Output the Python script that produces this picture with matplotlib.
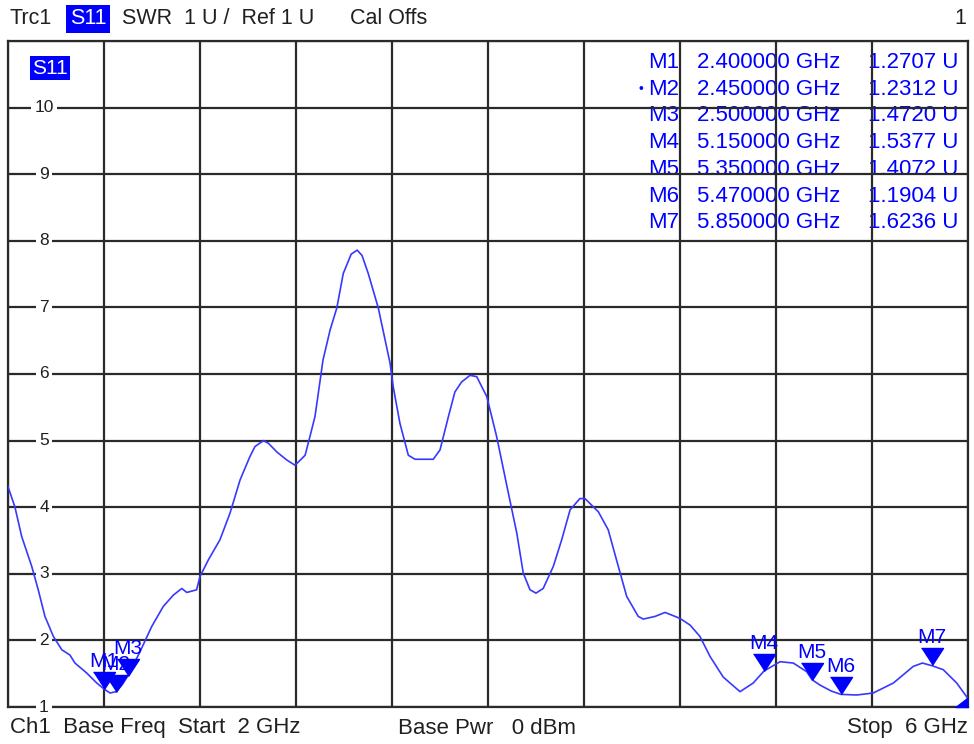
# VNA screenshot: S11 SWR trace, 2-6 GHz
import matplotlib.pyplot as plt
import matplotlib.transforms as mtransforms
import numpy as np

plt.rcParams['font.family'] = ['Liberation Sans', 'DejaVu Sans']

# trace (GHz, SWR)
freq = [2.0, 2.029, 2.057, 2.099, 2.126, 2.154, 2.189, 2.224, 2.258, 2.279,
        2.328, 2.37, 2.40, 2.425, 2.45, 2.475, 2.50, 2.55, 2.599, 2.647,
        2.689, 2.724, 2.745, 2.786, 2.80, 2.835, 2.883, 2.925, 2.967, 3.008,
        3.029, 3.064, 3.085, 3.12, 3.161, 3.196, 3.238, 3.258, 3.279, 3.289,
        3.3125, 3.342, 3.37, 3.397, 3.43, 3.455, 3.475, 3.501, 3.543, 3.592,
        3.605, 3.633, 3.668, 3.696, 3.745, 3.772, 3.80, 3.835, 3.862, 3.89,
        3.925, 3.953, 3.995, 4.036, 4.085, 4.12, 4.147, 4.175, 4.20, 4.23,
        4.272, 4.307, 4.342, 4.383, 4.404, 4.46, 4.501, 4.543, 4.578, 4.626,
        4.647, 4.696, 4.738, 4.80, 4.842, 4.883, 4.925, 4.98, 5.05, 5.105,
        5.15, 5.217, 5.272, 5.328, 5.35, 5.383, 5.43, 5.47, 5.536, 5.605,
        5.689, 5.772, 5.81, 5.85, 5.897, 5.953, 5.995, 6.0]
swr = [4.31, 4.00, 3.56, 3.11, 2.76, 2.36, 2.06, 1.86, 1.78, 1.66,
       1.51, 1.36, 1.27, 1.21, 1.23, 1.33, 1.47, 1.83, 2.21, 2.51,
       2.68, 2.78, 2.72, 2.76, 2.96, 3.21, 3.51, 3.91, 4.41, 4.76,
       4.91, 5.00, 4.96, 4.83, 4.71, 4.63, 4.78, 5.06, 5.36, 5.61,
       6.21, 6.66, 6.99, 7.51, 7.80, 7.86, 7.78, 7.51, 6.99, 6.16,
       5.81, 5.26, 4.78, 4.72, 4.72, 4.72, 4.86, 5.36, 5.73, 5.88,
       5.98, 5.96, 5.66, 5.06, 4.21, 3.61, 3.01, 2.76, 2.71, 2.78,
       3.11, 3.51, 3.96, 4.13, 4.13, 3.93, 3.66, 3.11, 2.66, 2.36,
       2.32, 2.36, 2.42, 2.33, 2.23, 2.06, 1.76, 1.45, 1.23, 1.36,
       1.54, 1.68, 1.66, 1.53, 1.41, 1.33, 1.24, 1.19, 1.18, 1.21,
       1.36, 1.61, 1.66, 1.62, 1.56, 1.36, 1.15, 1.12]

marker_names = ["M1", "M2", "M3", "M4", "M5", "M6", "M7"]
marker_freq = [2.40, 2.45, 2.50, 5.15, 5.35, 5.47, 5.85]
marker_swr = [1.2707, 1.2312, 1.4720, 1.5377, 1.4072, 1.1904, 1.6236]

y_ticks = [1, 2, 3, 4, 5, 6, 7, 8, 9, 10]

W, H = 974, 744
blue = '#0000ff'
trace_blue = '#3838ff'
ink = '#202020'
fig = plt.figure(figsize=(W / 100, H / 100), dpi=100)
ax = fig.add_axes([8 / W, 37 / H, 960 / W, 666 / H])
ax.set_xlim(2, 6)
ax.set_ylim(1, 11)
ax.set_xticks(np.linspace(2, 6, 11))
ax.set_yticks(range(1, 12))
ax.tick_params(length=0, labelbottom=False, labelleft=False)
ax.set_axisbelow(False)
ax.grid(True, color='#2a2a2a', lw=1.6)
for s in ax.spines.values():
    s.set_color('#2a2a2a')
    s.set_linewidth(1.6)

# y labels sit inside the grid, breaking the lines
ytrans = mtransforms.blended_transform_factory(ax.transAxes, ax.transData)
for v in y_ticks:
    ax.text(0.0375, v, str(v), transform=ytrans, ha='center', va='center',
            fontsize=12.5, color=ink, zorder=3,
            bbox=dict(fc='white', ec='none', pad=2.5))

ax.plot(freq, swr, color=trace_blue, lw=1.2, zorder=4)

# marker triangles with the tip on the trace
tri = [(-11, 17), (11, 17), (0, 0)]
for name, f, v in zip(marker_names, marker_freq, marker_swr):
    ax.plot(f, v, marker=tri, markersize=24.5, color=blue, mec=blue,
            ls='none', zorder=5, clip_on=False)
    ax.annotate(name, (f, v), xytext=(0, 18), textcoords='offset pixels',
                ha='center', va='bottom', fontsize=15, color=blue, zorder=5)
# corner indicator at stop frequency
ax.plot(freq[-1], 1, marker=[(0, 0), (-13, 0), (0, 10)], markersize=18,
        color=blue, ls='none', zorder=5, clip_on=False)

# S11 tag inside the grid
ax.text(50 / W, 1 - 68 / H, "S11", transform=fig.transFigure, ha='center',
        va='center', fontsize=15, color='white', zorder=3,
        bbox=dict(fc=blue, ec='none', pad=1.8))

# marker readout table (drawn under the grid lines)
for i, (name, f, v) in enumerate(zip(marker_names, marker_freq, marker_swr)):
    y = 1 - (62.5 + 26.7 * i) / H
    ax.text(679 / W, y, name, transform=fig.transFigure, ha='right',
            va='center', fontsize=16, color=blue, zorder=1)
    ax.text(697 / W, y, "%.6f GHz" % f, transform=fig.transFigure, ha='left',
            va='center', fontsize=16, color=blue, zorder=1)
    ax.text(958 / W, y, "%.4f U" % v, transform=fig.transFigure, ha='right',
            va='center', fontsize=16, color=blue, zorder=1)
    if name == "M2":
        ax.text(641 / W, y, "•", transform=fig.transFigure, ha='center',
                va='center', fontsize=10, color=blue, zorder=1)

# header and footer lines
hy = 1 - 19 / H
fig.text(10 / W, hy, "Trc1", ha='left', va='center', fontsize=15.5, color=ink)
fig.text(88 / W, hy, "S11", ha='center', va='center', fontsize=15.5, color='white',
         bbox=dict(fc=blue, ec='none', pad=2.5))
fig.text(122 / W, hy, "SWR  1 U /  Ref 1 U", ha='left', va='center',
         fontsize=15.5, color=ink)
fig.text(350 / W, hy, "Cal Offs", ha='left', va='center', fontsize=15.5, color=ink)
fig.text(966 / W, hy, "1", ha='right', va='center', fontsize=15.5, color=ink)

fy = 1 - 728 / H
fig.text(10 / W, fy, "Ch1  Base Freq  Start  2 GHz", ha='left', va='center',
         fontsize=16, color=ink)
fig.text(398 / W, fy, "Base Pwr   0 dBm", ha='left', va='center',
         fontsize=16, color=ink)
fig.text(968 / W, fy, "Stop  6 GHz", ha='right', va='center',
         fontsize=16, color=ink)

fig.savefig("out.png", dpi=100)
